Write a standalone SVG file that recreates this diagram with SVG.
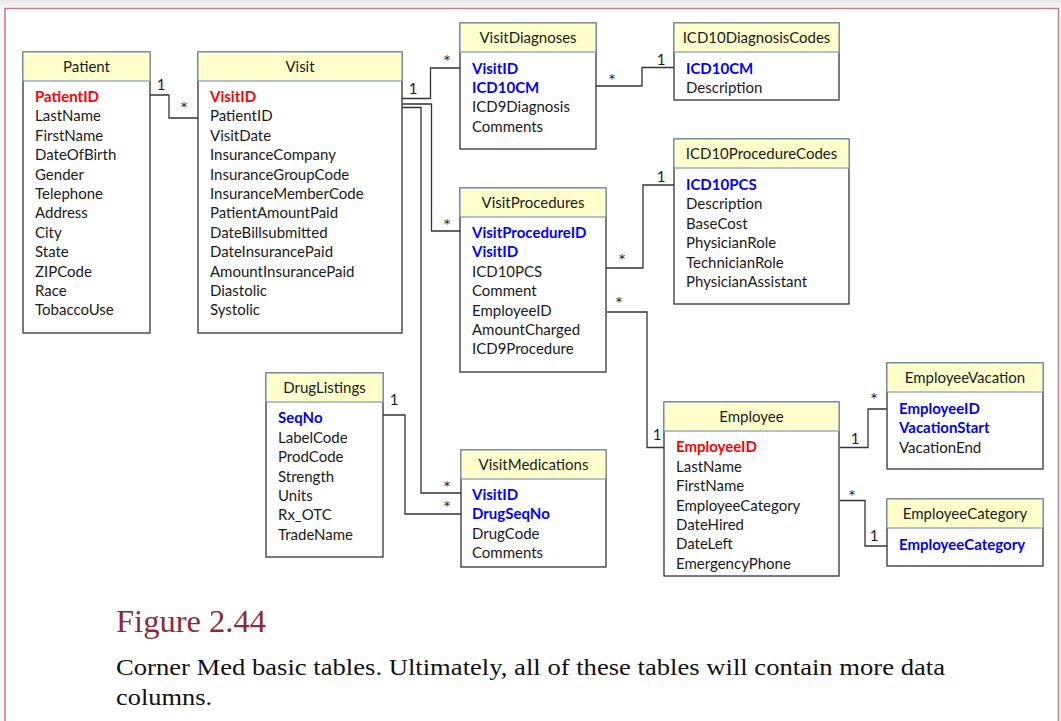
<svg xmlns="http://www.w3.org/2000/svg" width="1061" height="721" viewBox="0 0 1061 721">
  <defs>
    <linearGradient id="topShade" x1="0" y1="0" x2="0" y2="1">
      <stop offset="0" stop-color="#e6e6e6"/>
      <stop offset="1" stop-color="#fbfbfb"/>
    </linearGradient>
    <style>
      .hdr { fill: #ffffcc; stroke: #7f98b6; stroke-width: 1.2; }
      .box { fill: #ffffff; stroke: #333333; stroke-width: 1.3; }
      .t { font-family: Lato, "Open Sans", sans-serif; font-size: 15px; fill: #1a1a1a; }
      .ttl { font-family: Lato, "Open Sans", sans-serif; font-size: 15px; fill: #1a1a1a; text-anchor: middle; }
      .pk { fill: #ff0000; font-weight: bold; }
      .fk { fill: #0000ff; font-weight: bold; }
      .lnk { fill: none; stroke: #333333; stroke-width: 1.3; }
      .card { font-family: Lato, "Open Sans", sans-serif; font-size: 15px; fill: #1a1a1a; text-anchor: middle; }
      .many { font-family: "DejaVu Sans", sans-serif; font-size: 13px; fill: #1a1a1a; text-anchor: middle; }
      .cap-h { font-family: "Liberation Serif", serif; font-size: 31px; fill: #8c2a3a; }
      .cap { font-family: "Liberation Serif", serif; font-size: 22.5px; fill: #111111; }
    </style>
  </defs>

  <!-- page background and frame -->
  <rect x="0" y="0" width="1061" height="721" fill="#f7f7f7"/>
  <rect x="0" y="0" width="1061" height="9" fill="url(#topShade)"/>
  <rect x="5" y="8.5" width="1053.5" height="720" fill="#ffffff"/>
  <path d="M5 721 V8.5 H1058.5 V721" fill="none" stroke="#c47c88" stroke-width="1.5"/>

  <!-- relationship lines -->
  <g id="connectors">
    <path class="lnk" d="M150 95 H169 V118 H198"/>
    <path class="lnk" d="M402 98.5 H430.5 V68 H460"/>
    <path class="lnk" d="M402 104 H431.5 V231 H460"/>
    <path class="lnk" d="M402 107.5 H421 V493 H461"/>
    <path class="lnk" d="M383 415 H405 V514 H461"/>
    <path class="lnk" d="M596 86 H642 V67.5 H674"/>
    <path class="lnk" d="M606 268 H643 V185 H674"/>
    <path class="lnk" d="M607 312 H647 V447.5 H664"/>
    <path class="lnk" d="M840 447.5 H868 V409 H887"/>
    <path class="lnk" d="M840 500.5 H865 V546 H887"/>

    <text class="card" x="161" y="90">1</text>
    <text class="many" x="184" y="111.4">*</text>
    <text class="card" x="413" y="94">1</text>
    <text class="many" x="447" y="64.4">*</text>
    <text class="many" x="447" y="228.4">*</text>
    <text class="many" x="447" y="490.4">*</text>
    <text class="card" x="394" y="405">1</text>
    <text class="many" x="447" y="510.4">*</text>
    <text class="many" x="612" y="83.4">*</text>
    <text class="card" x="661" y="65">1</text>
    <text class="many" x="622" y="263.4">*</text>
    <text class="card" x="661" y="182">1</text>
    <text class="many" x="619" y="306">*</text>
    <text class="card" x="657" y="440">1</text>
    <text class="card" x="855" y="444">1</text>
    <text class="many" x="874" y="402.4">*</text>
    <text class="many" x="852" y="499.4">*</text>
    <text class="card" x="874" y="541">1</text>
  </g>

  <g id="patient">
    <rect class="box" x="23" y="52" width="127" height="281"/>
    <rect class="hdr" x="23" y="52" width="127" height="29"/>
    <text class="ttl" x="86.5" y="72">Patient</text>
    <text class="t pk" x="35" y="102">PatientID</text>
    <text class="t" x="35" y="121.4">LastName</text>
    <text class="t" x="35" y="140.8">FirstName</text>
    <text class="t" x="35" y="160.2">DateOfBirth</text>
    <text class="t" x="35" y="179.6">Gender</text>
    <text class="t" x="35" y="199">Telephone</text>
    <text class="t" x="35" y="218.4">Address</text>
    <text class="t" x="35" y="237.8">City</text>
    <text class="t" x="35" y="257.2">State</text>
    <text class="t" x="35" y="276.6">ZIPCode</text>
    <text class="t" x="35" y="296">Race</text>
    <text class="t" x="35" y="315.4">TobaccoUse</text>
  </g>

  <g id="visit">
    <rect class="box" x="198" y="52" width="204" height="281"/>
    <rect class="hdr" x="198" y="52" width="204" height="29"/>
    <text class="ttl" x="300" y="72">Visit</text>
    <text class="t pk" x="210" y="102">VisitID</text>
    <text class="t" x="210" y="121.4">PatientID</text>
    <text class="t" x="210" y="140.8">VisitDate</text>
    <text class="t" x="210" y="160.2">InsuranceCompany</text>
    <text class="t" x="210" y="179.6">InsuranceGroupCode</text>
    <text class="t" x="210" y="199">InsuranceMemberCode</text>
    <text class="t" x="210" y="218.4">PatientAmountPaid</text>
    <text class="t" x="210" y="237.8">DateBillsubmitted</text>
    <text class="t" x="210" y="257.2">DateInsurancePaid</text>
    <text class="t" x="210" y="276.6">AmountInsurancePaid</text>
    <text class="t" x="210" y="296">Diastolic</text>
    <text class="t" x="210" y="315.4">Systolic</text>
  </g>

  <g id="visit-diagnoses">
    <rect class="box" x="460" y="23" width="136" height="126"/>
    <rect class="hdr" x="460" y="23" width="136" height="29"/>
    <text class="ttl" x="528" y="43">VisitDiagnoses</text>
    <text class="t fk" x="472" y="73.5">VisitID</text>
    <text class="t fk" x="472" y="92.9">ICD10CM</text>
    <text class="t" x="472" y="112.3">ICD9Diagnosis</text>
    <text class="t" x="472" y="131.7">Comments</text>
  </g>

  <g id="icd10-diagnosis-codes">
    <rect class="box" x="674" y="23" width="165" height="77"/>
    <rect class="hdr" x="674" y="23" width="165" height="29"/>
    <text class="ttl" x="756.5" y="43">ICD10DiagnosisCodes</text>
    <text class="t fk" x="686" y="73.5">ICD10CM</text>
    <text class="t" x="686" y="92.9">Description</text>
  </g>

  <g id="icd10-procedure-codes">
    <rect class="box" x="674" y="139" width="175" height="165"/>
    <rect class="hdr" x="674" y="139" width="175" height="29"/>
    <text class="ttl" x="761.5" y="159">ICD10ProcedureCodes</text>
    <text class="t fk" x="686" y="190">ICD10PCS</text>
    <text class="t" x="686" y="209.4">Description</text>
    <text class="t" x="686" y="228.8">BaseCost</text>
    <text class="t" x="686" y="248.2">PhysicianRole</text>
    <text class="t" x="686" y="267.6">TechnicianRole</text>
    <text class="t" x="686" y="287">PhysicianAssistant</text>
  </g>

  <g id="visit-procedures">
    <rect class="box" x="460" y="188" width="146" height="184"/>
    <rect class="hdr" x="460" y="188" width="146" height="29"/>
    <text class="ttl" x="533" y="208">VisitProcedures</text>
    <text class="t fk" x="472" y="238">VisitProcedureID</text>
    <text class="t fk" x="472" y="257.4">VisitID</text>
    <text class="t" x="472" y="276.8">ICD10PCS</text>
    <text class="t" x="472" y="296.2">Comment</text>
    <text class="t" x="472" y="315.6">EmployeeID</text>
    <text class="t" x="472" y="335">AmountCharged</text>
    <text class="t" x="472" y="354.4">ICD9Procedure</text>
  </g>

  <g id="drug-listings">
    <rect class="box" x="266" y="373" width="117" height="184"/>
    <rect class="hdr" x="266" y="373" width="117" height="29"/>
    <text class="ttl" x="324.5" y="393">DrugListings</text>
    <text class="t fk" x="278" y="423.3">SeqNo</text>
    <text class="t" x="278" y="442.7">LabelCode</text>
    <text class="t" x="278" y="462.1">ProdCode</text>
    <text class="t" x="278" y="481.5">Strength</text>
    <text class="t" x="278" y="500.9">Units</text>
    <text class="t" x="278" y="520.3">Rx_OTC</text>
    <text class="t" x="278" y="539.7">TradeName</text>
  </g>

  <g id="visit-medications">
    <rect class="box" x="461" y="450" width="145" height="117"/>
    <rect class="hdr" x="461" y="450" width="145" height="29"/>
    <text class="ttl" x="533.5" y="470">VisitMedications</text>
    <text class="t fk" x="472" y="499.7">VisitID</text>
    <text class="t fk" x="472" y="519.1">DrugSeqNo</text>
    <text class="t" x="472" y="538.5">DrugCode</text>
    <text class="t" x="472" y="557.9">Comments</text>
  </g>

  <g id="employee">
    <rect class="box" x="664" y="402" width="175" height="174"/>
    <rect class="hdr" x="664" y="402" width="175" height="29"/>
    <text class="ttl" x="751.5" y="422">Employee</text>
    <text class="t pk" x="676" y="452.3">EmployeeID</text>
    <text class="t" x="676" y="471.7">LastName</text>
    <text class="t" x="676" y="491.1">FirstName</text>
    <text class="t" x="676" y="510.5">EmployeeCategory</text>
    <text class="t" x="676" y="529.9">DateHired</text>
    <text class="t" x="676" y="549.3">DateLeft</text>
    <text class="t" x="676" y="568.7">EmergencyPhone</text>
  </g>

  <g id="employee-vacation">
    <rect class="box" x="887" y="363" width="156" height="106"/>
    <rect class="hdr" x="887" y="363" width="156" height="29"/>
    <text class="ttl" x="965" y="383">EmployeeVacation</text>
    <text class="t fk" x="899" y="413.7">EmployeeID</text>
    <text class="t fk" x="899" y="433.1">VacationStart</text>
    <text class="t" x="899" y="452.5">VacationEnd</text>
  </g>

  <g id="employee-category">
    <rect class="box" x="887" y="499" width="156" height="67"/>
    <rect class="hdr" x="887" y="499" width="156" height="29"/>
    <text class="ttl" x="965" y="519">EmployeeCategory</text>
    <text class="t fk" x="899" y="549.5">EmployeeCategory</text>
  </g>

  <!-- caption, set in a slightly widened serif -->
  <text class="cap-h" x="116" y="632" textLength="150" lengthAdjust="spacingAndGlyphs">Figure 2.44</text>
  <text class="cap" x="116" y="675" textLength="829" lengthAdjust="spacingAndGlyphs">Corner Med basic tables. Ultimately, all of these tables will contain more data</text>
  <text class="cap" x="116" y="705" textLength="96" lengthAdjust="spacingAndGlyphs">columns.</text>
</svg>
